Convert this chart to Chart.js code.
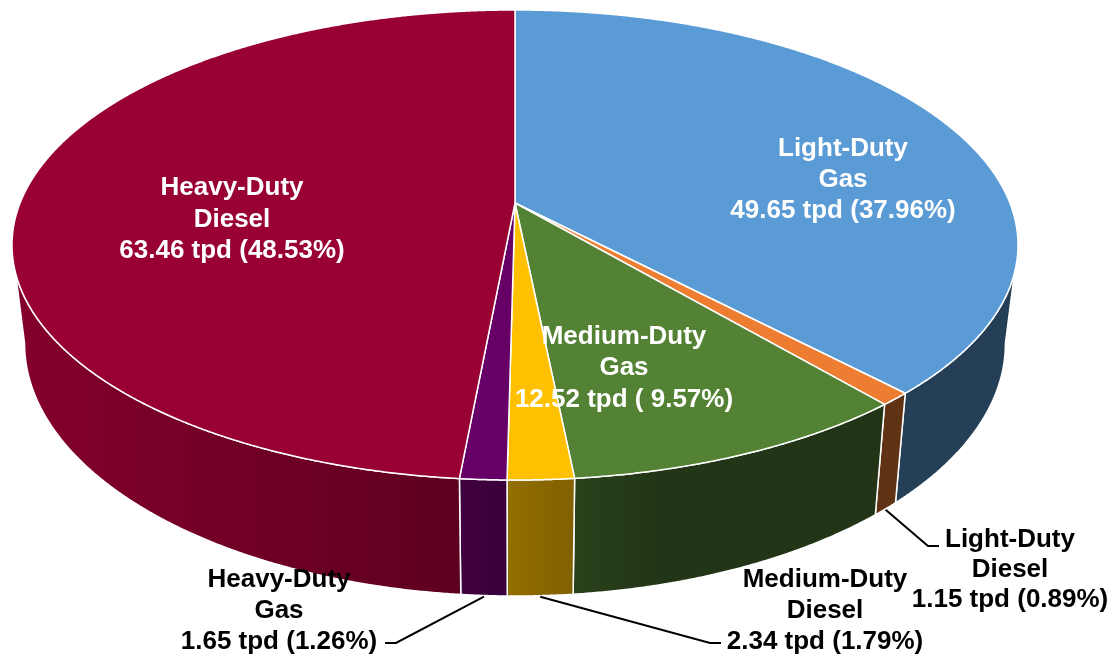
<!DOCTYPE html>
<html><head><meta charset="utf-8">
<script src="https://cdn.jsdelivr.net/npm/chart.js@4.4.1/dist/chart.umd.min.js"></script>
<style>html,body{margin:0;padding:0;background:#fff;overflow:hidden}</style>
</head><body>
<canvas id="c" width="1113" height="657"></canvas>
<script>
// ---- data ----
const categories = ["Light-Duty Gas", "Light-Duty Diesel", "Medium-Duty Gas", "Medium-Duty Diesel", "Heavy-Duty Gas", "Heavy-Duty Diesel"];
const tpdValues = [49.65, 1.15, 12.52, 2.34, 1.65, 63.46];
const percentText = ["37.96", "0.89", " 9.57", "1.79", "1.26", "48.53"];

// ---- styles / layout ----
const sliceColors = ["#5B9BD5", "#ED7D31", "#548235", "#FFC000", "#660066", "#990033"];
const view = { cx: 515, cy: 203, a: 494.9, b: 227.5, k: 0.1787, depth: 95.3, xShrink: 0.975 };
const shadeStops = [[12, 0.86], [440, 0.63], [505, 0.58], [575, 0.5], [660, 0.41], [1113, 0.4]];
const labelLayout = [
  { x: 843, y: [156, 187, 218], color: "#fff" },
  { x: 1010, y: [547, 577, 607], color: "#000", leader: [[928, 546], [939, 546]] },
  { x: 624, y: [344, 375, 407], color: "#fff" },
  { x: 825, y: [587, 618, 649], color: "#000", leader: [[710, 643], [721, 643]] },
  { x: 279, y: [587, 618, 649], color: "#000", leader: [[396, 643], [385, 643]] },
  { x: 232, y: [195, 226.5, 258], color: "#fff" }
];
const labelFont = 'bold 26px "Liberation Sans", Arial, sans-serif';

function topPt(phi, r) {
  r = r === undefined ? 1 : r;
  const w = 1 - view.k * r * Math.sin(phi);
  return [view.cx + view.a * r * Math.cos(phi) / w, view.cy + view.b * r * Math.sin(phi) / w];
}
function botPt(phi) {
  const p = topPt(phi);
  return [view.cx + (p[0] - view.cx) * view.xShrink, p[1] + view.depth / (1 - view.k * Math.sin(phi))];
}
function hexRgb(h) { const n = parseInt(h.slice(1), 16); return [(n >> 16) & 255, (n >> 8) & 255, n & 255]; }
function shade(h, f) { const c = hexRgb(h); return "rgb(" + c.map(v => Math.round(v * f)).join(",") + ")"; }

const pie3d = {
  id: "pie3d",
  beforeDatasetsDraw(chart) {
    const ctx = chart.ctx;
    const arcs = chart.getDatasetMeta(0).data;
    const phi0 = Math.asin(view.k);
    const step = 0.004;
    ctx.save();
    ctx.lineJoin = "round";
    // side walls
    arcs.forEach((arc, i) => {
      const lo = Math.max(arc.startAngle, phi0), hi = Math.min(arc.endAngle, Math.PI - phi0);
      if (lo >= hi) return;
      const color = arc.options.backgroundColor;
      const g = ctx.createLinearGradient(0, 0, chart.width, 0);
      shadeStops.forEach(s => g.addColorStop(Math.min(1, s[0] / chart.width), shade(color, s[1])));
      ctx.beginPath();
      const n = Math.max(2, Math.ceil((hi - lo) / step));
      for (let j = 0; j <= n; j++) { const p = topPt(lo + (hi - lo) * j / n); j ? ctx.lineTo(p[0], p[1]) : ctx.moveTo(p[0], p[1]); }
      for (let j = n; j >= 0; j--) { const p = botPt(lo + (hi - lo) * j / n); ctx.lineTo(p[0], p[1]); }
      ctx.closePath();
      ctx.fillStyle = g; ctx.fill();
      ctx.strokeStyle = "#fff"; ctx.lineWidth = 1.5; ctx.stroke();
    });
    // top faces
    arcs.forEach((arc) => {
      const s = arc.startAngle, e = arc.endAngle;
      ctx.beginPath();
      ctx.moveTo(view.cx, view.cy);
      const n = Math.max(2, Math.ceil((e - s) / step));
      for (let j = 0; j <= n; j++) { const p = topPt(s + (e - s) * j / n); ctx.lineTo(p[0], p[1]); }
      ctx.closePath();
      ctx.fillStyle = arc.options.backgroundColor; ctx.fill();
      ctx.strokeStyle = "#fff"; ctx.lineWidth = 1.5; ctx.stroke();
    });
    ctx.restore();
  },
  beforeDatasetDraw() { return false; },
  afterDatasetsDraw(chart) {
    const ctx = chart.ctx;
    const arcs = chart.getDatasetMeta(0).data;
    ctx.save();
    ctx.font = labelFont;
    ctx.textAlign = "center";
    ctx.textBaseline = "alphabetic";
    arcs.forEach((arc, i) => {
      const L = labelLayout[i];
      const name = categories[i];
      const sp = name.indexOf(" ");
      const lines = [name.slice(0, sp), name.slice(sp + 1), tpdValues[i].toFixed(2) + " tpd (" + percentText[i] + "%)"];
      if (L.leader) {
        const mid = (arc.startAngle + arc.endAngle) / 2;
        const p = botPt(mid);
        ctx.beginPath();
        ctx.moveTo(p[0], p[1] + 1);
        L.leader.forEach(q => ctx.lineTo(q[0], q[1]));
        ctx.strokeStyle = "#000"; ctx.lineWidth = 2; ctx.stroke();
      }
      ctx.fillStyle = L.color;
      lines.forEach((t, j) => ctx.fillText(t, L.x, L.y[j]));
    });
    ctx.restore();
  }
};

new Chart(document.getElementById("c"), {
  type: "pie",
  data: { labels: categories, datasets: [{ data: tpdValues, backgroundColor: sliceColors, borderColor: "#fff", borderWidth: 1.5 }] },
  options: {
    responsive: false, animation: false, events: [],
    plugins: { legend: { display: false }, tooltip: { enabled: false } }
  },
  plugins: [pie3d]
});
</script>
</body></html>
